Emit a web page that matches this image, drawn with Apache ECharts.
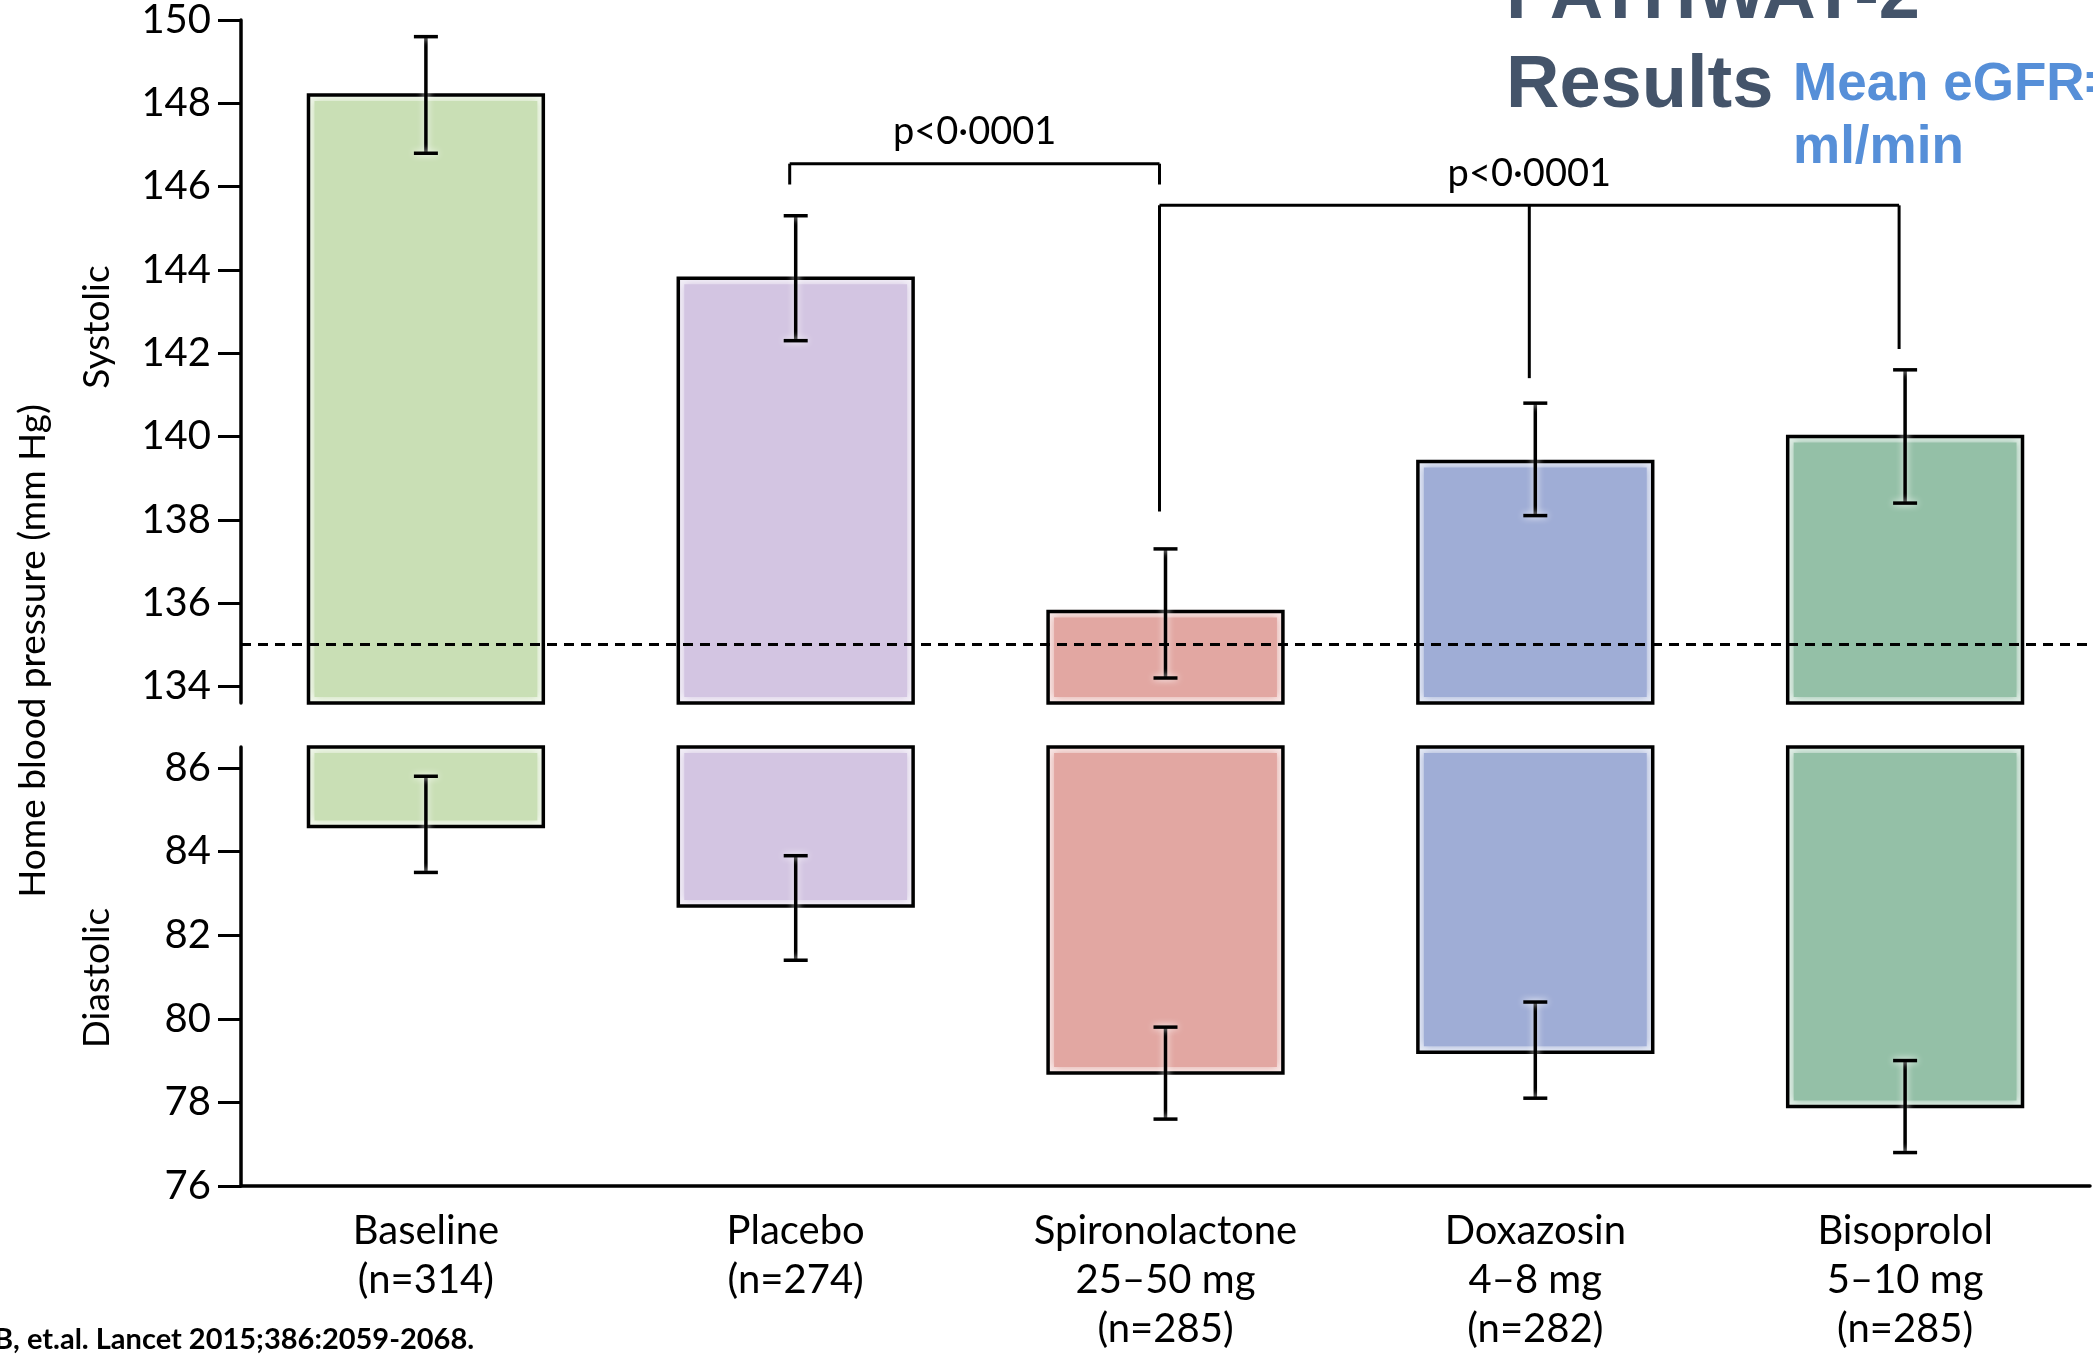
<!DOCTYPE html>
<html>
<head>
<meta charset="utf-8">
<title>PATHWAY-2 home blood pressure</title>
<script src="https://cdn.jsdelivr.net/npm/echarts@6/dist/echarts.min.js"></script>
<style>
  html, body { margin: 0; padding: 0; background: #ffffff; }
  #chart { width: 2093px; height: 1354px; }
</style>
</head>
<body>
<div id="chart"></div>
<script>
// Treatment groups (x axis)
const categories = [
  'Baseline\n(n=314)',
  'Placebo\n(n=274)',
  'Spironolactone\n25–50 mg\n(n=285)',
  'Doxazosin\n4–8 mg\n(n=282)',
  'Bisoprolol\n5–10 mg\n(n=285)'
];

// Systolic home BP, mean and 95% CI (mm Hg)
const systolicMean = [148.2, 143.8, 135.8, 139.4, 140.0];
const systolicLow  = [146.8, 142.3, 134.2, 138.1, 138.4];
const systolicHigh = [149.6, 145.3, 137.3, 140.8, 141.6];

// Diastolic home BP, mean and 95% CI (mm Hg)
const diastolicMean = [84.6, 82.7, 78.7, 79.2, 77.9];
const diastolicLow  = [83.5, 81.4, 77.6, 78.1, 76.8];
const diastolicHigh = [85.8, 83.9, 79.8, 80.4, 79.0];

// Systolic target line
const systolicTarget = 135;

// Tick labels
const systolicTicks  = [134, 136, 138, 140, 142, 144, 146, 148, 150];
const diastolicTicks = [76, 78, 80, 82, 84, 86];

// Group fill colours
const barColors = ['#c9dfb5', '#d3c5e2', '#e2a7a2', '#9fadd6', '#94c0a7'];

// Axis windows of the two panels
const SYS_MIN = 133.6, SYS_MAX = 150;
const DIA_MIN = 76, DIA_MAX = 86.5;

// Pairwise comparisons drawn as brackets above the systolic panel
const comparisons = [
  { legs: [1, 2], ends: [146.05, 146.05], level: 146.55, label: 'p<0·0001' },
  { legs: [2, 3, 4], ends: [138.2, 141.4, 142.1], level: 145.55, label: 'p<0·0001' }
];

const FONT = 'Lato, "Noto Sans", sans-serif';

function lighten(hex, t) {
  const n = parseInt(hex.slice(1), 16);
  const r = (n >> 16) & 255, g = (n >> 8) & 255, b = n & 255;
  const m = c => Math.round(c + (255 - c) * t);
  return 'rgb(' + m(r) + ',' + m(g) + ',' + m(b) + ')';
}

// Bar with a soft light inner rim and a black outline
function barRenderer(base) {
  return function (params, api) {
    const i = api.value(0);
    const v = api.value(1);
    const w = api.size([1, 0])[0] * 0.635;
    const p1 = api.coord([i, v]);
    const p0 = api.coord([i, base]);
    const x = p1[0] - w / 2;
    const y = Math.min(p0[1], p1[1]);
    const h = Math.abs(p0[1] - p1[1]);
    const col = barColors[i];
    const inset = 6;
    return {
      type: 'group',
      children: [
        { type: 'rect', shape: { x: x, y: y, width: w, height: h },
          style: { fill: lighten(col, 0.75) } },
        { type: 'rect', shape: { x: x + inset, y: y + inset, width: w - 2 * inset, height: Math.max(0, h - 2 * inset) },
          style: { fill: col, shadowBlur: 8, shadowColor: col } },
        { type: 'rect', shape: { x: x, y: y, width: w, height: h },
          style: { fill: 'none', stroke: '#000', lineWidth: 3.5 } }
      ]
    };
  };
}

// Error bar with caps and a white halo
function errorRenderer(params, api) {
  const i = api.value(0);
  const lo = api.coord([i, api.value(1)]);
  const hi = api.coord([i, api.value(2)]);
  const cap = 12;
  const st = { stroke: '#000', lineWidth: 3.5, shadowBlur: 7, shadowColor: 'rgba(255,255,255,0.95)' };
  return {
    type: 'group',
    children: [
      { type: 'line', shape: { x1: lo[0], y1: lo[1], x2: hi[0], y2: hi[1] }, style: st },
      { type: 'line', shape: { x1: lo[0] - cap, y1: lo[1], x2: lo[0] + cap, y2: lo[1] }, style: st },
      { type: 'line', shape: { x1: hi[0] - cap, y1: hi[1], x2: hi[0] + cap, y2: hi[1] }, style: st }
    ]
  };
}

// Significance bracket with its p value label
function bracketRenderer(params, api) {
  const c = comparisons[params.dataIndex];
  const lineY = api.coord([c.legs[0], c.level])[1];
  const xs = c.legs.map(k => api.coord([k, c.level])[0] - 6);
  const children = [];
  children.push({ type: 'line', shape: { x1: xs[0], y1: lineY, x2: xs[xs.length - 1], y2: lineY },
    style: { stroke: '#000', lineWidth: 3 } });
  c.legs.forEach((k, j) => {
    const yEnd = api.coord([k, c.ends[j]])[1];
    children.push({ type: 'line', shape: { x1: xs[j], y1: lineY, x2: xs[j], y2: yEnd },
      style: { stroke: '#000', lineWidth: 3 } });
  });
  children.push({ type: 'text', x: (xs[0] + xs[xs.length - 1]) / 2, y: lineY - 32,
    style: { text: c.label, fill: '#000', font: '38px ' + FONT, align: 'center', verticalAlign: 'middle' } });
  return { type: 'group', children: children };
}

const axisLineStyle = { color: '#000', width: 3.5 };

const option = {
  backgroundColor: '#ffffff',
  animation: false,
  grid: [
    { left: 241, right: 3, top: 16, height: 687 },
    { left: 241, right: 3, top: 747, height: 440 }
  ],
  xAxis: [
    { gridIndex: 0, type: 'category', data: categories, show: false },
    {
      gridIndex: 1, type: 'category', data: categories,
      axisLine: { lineStyle: axisLineStyle },
      axisTick: { length: 19, lineStyle: { color: '#000', width: 3 }, interval: 0 },
      axisLabel: { interval: 0, margin: 21, color: '#000', fontFamily: FONT, fontSize: 40, lineHeight: 49 }
    }
  ],
  yAxis: [
    {
      gridIndex: 0, type: 'value', min: SYS_MIN, max: SYS_MAX,
      axisLine: { show: true, lineStyle: axisLineStyle },
      axisTick: { show: true, length: 23, lineStyle: { color: '#000', width: 3 }, customValues: systolicTicks },
      axisLabel: { margin: 30, color: '#000', fontFamily: FONT, fontSize: 40, customValues: systolicTicks },
      splitLine: { show: false }
    },
    {
      gridIndex: 1, type: 'value', min: DIA_MIN, max: DIA_MAX,
      axisLine: { show: true, lineStyle: axisLineStyle },
      axisTick: { show: true, length: 23, lineStyle: { color: '#000', width: 3 }, customValues: diastolicTicks },
      axisLabel: { margin: 30, color: '#000', fontFamily: FONT, fontSize: 40, customValues: diastolicTicks },
      splitLine: { show: false }
    }
  ],
  series: [
    {
      name: 'Systolic', type: 'custom', xAxisIndex: 0, yAxisIndex: 0, z: 2, clip: false,
      renderItem: barRenderer(SYS_MIN),
      data: systolicMean.map((v, i) => [i, v]),
      markLine: {
        silent: true, symbol: 'none', z: 5,
        label: { show: false },
        lineStyle: { color: '#000', type: [10, 7], width: 2.8 },
        data: [{ yAxis: systolicTarget }]
      }
    },
    {
      name: 'Systolic CI', type: 'custom', xAxisIndex: 0, yAxisIndex: 0, z: 4, clip: false,
      renderItem: errorRenderer,
      data: systolicMean.map((v, i) => [i, systolicLow[i], systolicHigh[i]])
    },
    {
      name: 'Diastolic', type: 'custom', xAxisIndex: 1, yAxisIndex: 1, z: 2, clip: false,
      renderItem: barRenderer(DIA_MAX),
      data: diastolicMean.map((v, i) => [i, v])
    },
    {
      name: 'Diastolic CI', type: 'custom', xAxisIndex: 1, yAxisIndex: 1, z: 4, clip: false,
      renderItem: errorRenderer,
      data: diastolicMean.map((v, i) => [i, diastolicLow[i], diastolicHigh[i]])
    },
    {
      name: 'Comparisons', type: 'custom', xAxisIndex: 0, yAxisIndex: 0, z: 4, clip: false,
      renderItem: bracketRenderer,
      data: comparisons.map((c, k) => [c.legs[0], c.level])
    }
  ],
  graphic: [
    { type: 'text', x: 97, y: 327, rotation: Math.PI / 2,
      style: { text: 'Systolic', fill: '#000', font: '37px ' + FONT, align: 'center', verticalAlign: 'middle' } },
    { type: 'text', x: 97, y: 978, rotation: Math.PI / 2,
      style: { text: 'Diastolic', fill: '#000', font: '37px ' + FONT, align: 'center', verticalAlign: 'middle' } },
    { type: 'text', x: 33, y: 651, rotation: Math.PI / 2,
      style: { text: 'Home blood pressure (mm Hg)', fill: '#000', font: '37px ' + FONT, align: 'center', verticalAlign: 'middle' } },
    { type: 'text', x: 1506, y: -2,
      style: { text: 'PATHWAY-2', fill: '#44546a', font: 'bold 74px "Liberation Sans", Arial, sans-serif', align: 'left', verticalAlign: 'middle' } },
    { type: 'text', x: 1506, y: 87,
      style: { text: 'Results', fill: '#44546a', font: 'bold 74px "Liberation Sans", Arial, sans-serif', align: 'left', verticalAlign: 'middle' } },
    { type: 'text', x: 1793, y: 85,
      style: { text: 'Mean eGFR=', fill: '#568fd8', font: 'bold 53px "Liberation Sans", Arial, sans-serif', align: 'left', verticalAlign: 'middle' } },
    { type: 'text', x: 1793, y: 148,
      style: { text: 'ml/min', fill: '#568fd8', font: 'bold 53px "Liberation Sans", Arial, sans-serif', align: 'left', verticalAlign: 'middle' } },
    { type: 'text', x: -6, y: 1340,
      style: { text: 'B, et.al. Lancet 2015;386:2059-2068.', fill: '#000', font: 'bold 29px ' + FONT, align: 'left', verticalAlign: 'middle' } }
  ]
};

const chart = echarts.init(document.getElementById('chart'), null, { renderer: 'canvas' });
chart.setOption(option);
</script>
</body>
</html>
